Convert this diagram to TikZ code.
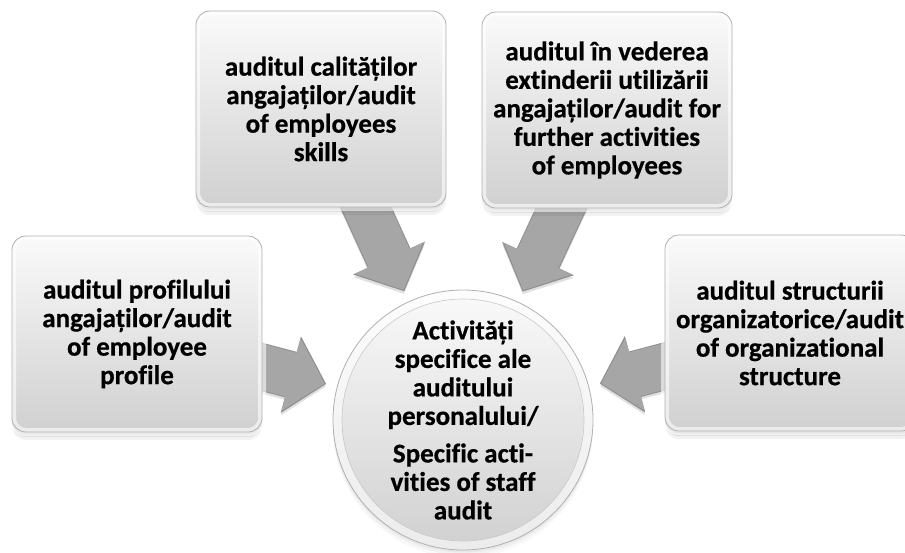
\documentclass[tikz,border=0pt]{standalone}
\usepackage{fontspec}
\newfontfamily\labelfamily{Carlito}[Ligatures={NoCommon}, BoldFeatures={FakeBold=0.6}]
\usetikzlibrary{arrows.meta}

\definecolor{arrowgray}{HTML}{A6A6A6}
\definecolor{arrowedge}{HTML}{909090}
\definecolor{rimgray}{HTML}{B0B0B0}
\definecolor{facetop}{HTML}{FAFAFA}
\definecolor{facebottom}{HTML}{D0D0D0}

\newcommand{\labelfont}{\labelfamily\bfseries\fontsize{27}{28.5}\selectfont}

\tikzset{
  softshadow/.style={
    preaction={fill=black, opacity=0.05, transform canvas={yshift=-8pt}},
    preaction={fill=black, opacity=0.08, transform canvas={yshift=-5pt}},
    preaction={fill=black, opacity=0.10, transform canvas={yshift=-2.5pt}}},
  bevelface/.style={
    top color=facetop, bottom color=facebottom, draw=none, softshadow,
    postaction={draw=white, line width=#1, opacity=0.6},
    postaction={draw=rimgray, line width=0.8pt}},
  topicbox/.style={
    rectangle, rounded corners=14pt, bevelface=8pt,
    minimum width=250pt, minimum height=196pt,
    align=center, font=\labelfont, text=black, inner sep=0pt},
  hubdisc/.style={
    circle, bevelface=18pt, minimum size=260pt,
    align=center, font=\labelfont, text=black, inner sep=0pt},
  % block arrow: a soft shadow, a darker rim, then the face
  arrowshadow/.style={
    draw=black, opacity=0.12, line width=46pt, line cap=butt,
    -{Triangle[width=76pt, length=36pt]}, shorten >=142pt,
    transform canvas={yshift=-3pt}},
  arrowrim/.style={
    draw=arrowedge, line width=47pt, line cap=butt,
    -{Triangle[width=77pt, length=36.5pt]}, shorten >=141.5pt},
  arrowface/.style={
    draw=arrowgray, line width=45pt, line cap=butt,
    -{Triangle[width=73pt, length=35pt]}, shorten >=143pt}
}

\begin{document}
\begin{tikzpicture}[x=1pt, y=-1pt]
  \useasboundingbox (0,0) rectangle (905,552);
  \clip (0,0) rectangle (905,552);

  % anchor points of the five shapes
  \coordinate (lbpos) at (137,334);
  \coordinate (tlpos) at (321,109);
  \coordinate (trpos) at (607,110);
  \coordinate (rbpos) at (790,333);
  \coordinate (hubpos) at (463,420);

  % block arrows, drawn first so that the boxes cover their tails
  \foreach \src in {lbpos,tlpos,trpos,rbpos} {
    \draw[arrowshadow] (\src) -- (hubpos);
    \draw[arrowrim] (\src) -- (hubpos);
    \draw[arrowface] (\src) -- (hubpos);
  }

  % outer topics
  \node[topicbox] (lb) at (lbpos)
    {auditul profilului\\angajaților/audit\\of employee\\profile};
  \node[topicbox] (tl) at (tlpos)
    {auditul calităților\\angajaților/audit\\of employees\\skills};
  \node[topicbox] (tr) at (trpos)
    {auditul în vederea\\extinderii utilizării\\angajaților/audit for\\further activities\\of employees};
  \node[topicbox] (rb) at (rbpos)
    {auditul structurii\\organizatorice/audit\\of organizational\\structure};

  % central topic
  \node[hubdisc] (hub) at (hubpos)
    {Activități\\specifice ale\\auditului\\personalului/\\[9pt]Specific acti-\\vities of staff\\audit};
  \draw[rimgray!70, line width=0.6pt] (hub.center) circle[radius=121pt];
\end{tikzpicture}
\end{document}
